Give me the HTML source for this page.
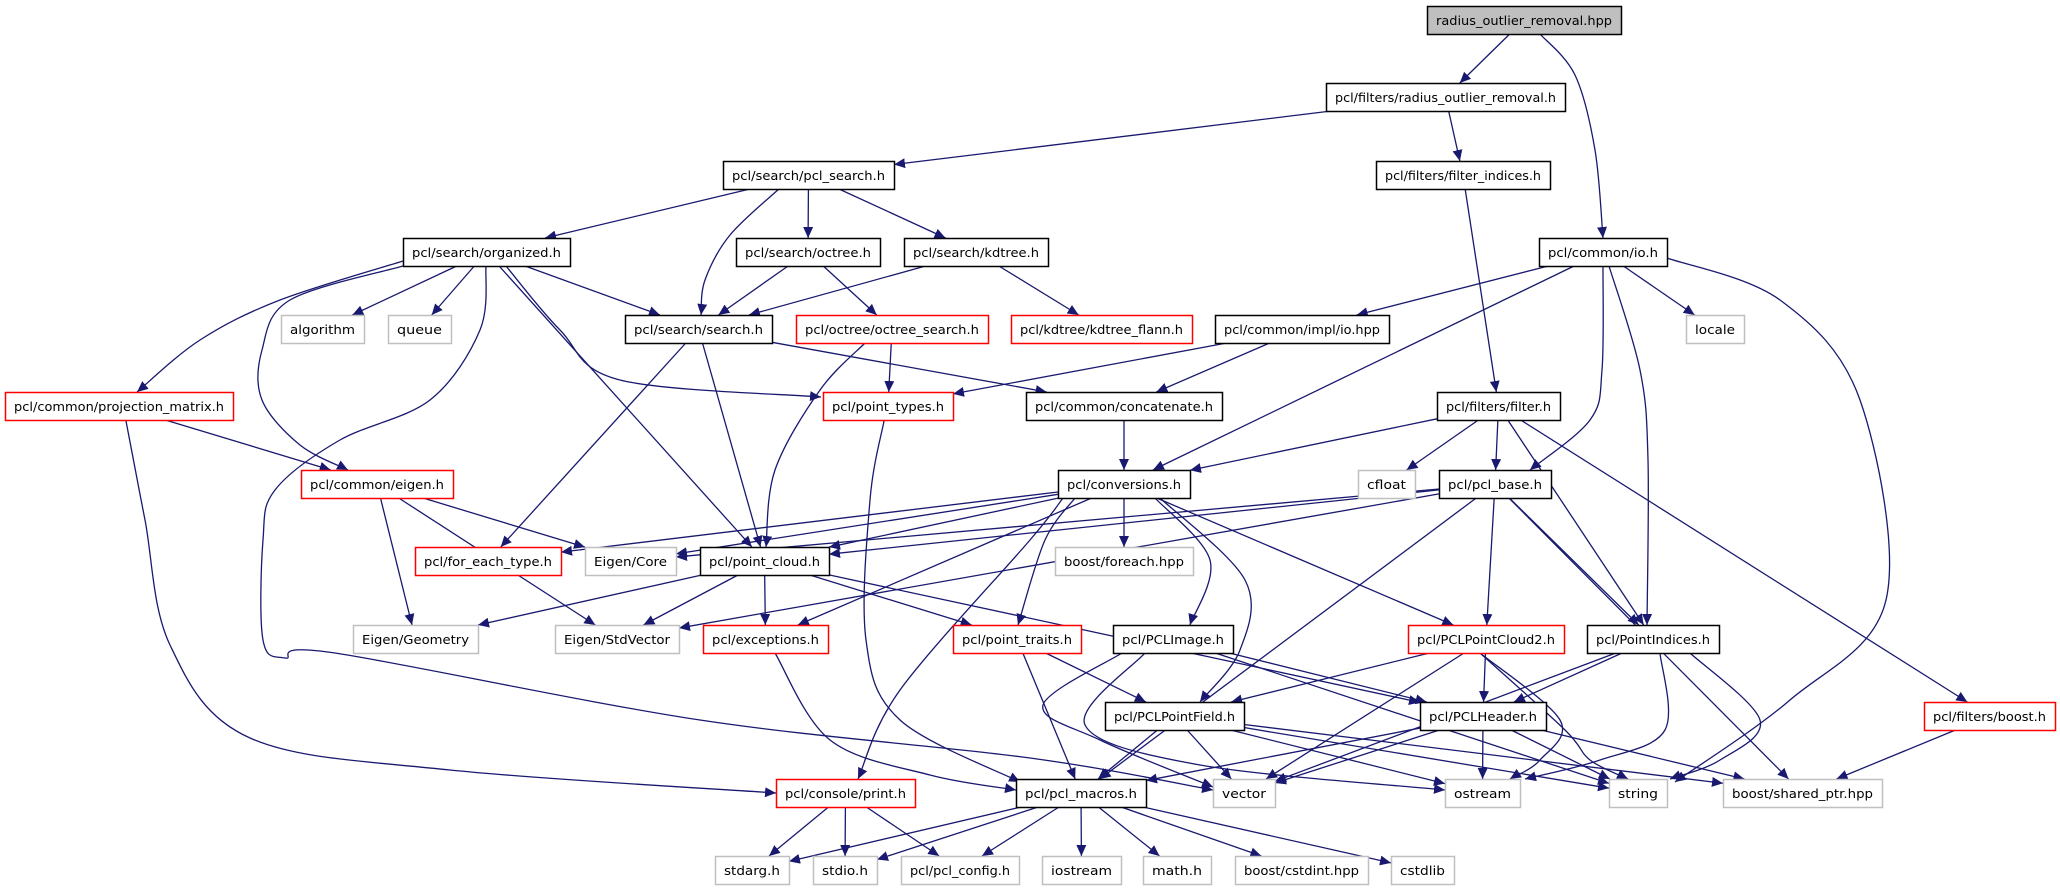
<!DOCTYPE html>
<html><head><meta charset="utf-8">
<style>
html,body{margin:0;padding:0;background:#fff;}
svg{display:block;}
text{font-family:"DejaVu Sans","Liberation Sans",sans-serif;font-size:12.5px;fill:#000;}
</style></head>
<body>
<svg id="g" width="2060" height="891" viewBox="0 0 2060 891" xmlns="http://www.w3.org/2000/svg">
<defs>
<marker id="a" markerUnits="userSpaceOnUse" markerWidth="12" markerHeight="10" refX="11" refY="5" orient="auto">
<path d="M0,0 L11,5 L0,10 z" fill="#191970"/>
</marker>
</defs>
<g id="edges" fill="none" stroke="#191970" stroke-width="1.3"></g>
<g id="nodes"></g>
</svg>
<script>
var N={
root:[1427,1621,6,"radius_outlier_removal.hpp","k",1],
radius:[1326,1565,83,"pcl/filters/radius_outlier_removal.h","b"],
pcl_search:[723,894,161,"pcl/search/pcl_search.h","b"],
filter_indices:[1376,1550,161,"pcl/filters/filter_indices.h","b"],
organized:[403,570,238,"pcl/search/organized.h","b"],
octree:[736,880,238,"pcl/search/octree.h","b"],
kdtree:[904,1048,238,"pcl/search/kdtree.h","b"],
io:[1539,1667,238,"pcl/common/io.h","b"],
algorithm:[281,364,315,"algorithm","g"],
queue:[388,451,315,"queue","g"],
search:[625,772,315,"pcl/search/search.h","b"],
octree_search:[796,988,315,"pcl/octree/octree_search.h","r"],
kdtree_flann:[1011,1192,315,"pcl/kdtree/kdtree_flann.h","r"],
impl_io:[1215,1389,315,"pcl/common/impl/io.hpp","b"],
locale:[1686,1744,315,"locale","g"],
proj:[5,233,392,"pcl/common/projection_matrix.h","r"],
point_types:[823,953,392,"pcl/point_types.h","r"],
concatenate:[1026,1222,392,"pcl/common/concatenate.h","b"],
filter:[1437,1560,392,"pcl/filters/filter.h","b"],
eigen:[301,453,470,"pcl/common/eigen.h","r"],
conversions:[1058,1190,470,"pcl/conversions.h","b"],
cfloat:[1358,1415,470,"cfloat","g"],
pcl_base:[1439,1551,470,"pcl/pcl_base.h","b"],
for_each:[415,561,547,"pcl/for_each_type.h","r"],
core:[585,676,547,"Eigen/Core","g"],
point_cloud:[700,829,547,"pcl/point_cloud.h","b"],
foreach:[1055,1193,547,"boost/foreach.hpp","g"],
geometry:[353,478,625,"Eigen/Geometry","g"],
stdvector:[555,679,625,"Eigen/StdVector","g"],
exceptions:[703,828,625,"pcl/exceptions.h","r"],
point_traits:[953,1081,625,"pcl/point_traits.h","r"],
pclimage:[1113,1233,625,"pcl/PCLImage.h","b"],
pc2:[1408,1564,625,"pcl/PCLPointCloud2.h","r"],
pointindices:[1587,1719,625,"pcl/PointIndices.h","b"],
pointfield:[1105,1244,702,"pcl/PCLPointField.h","b"],
header:[1420,1546,702,"pcl/PCLHeader.h","b"],
fboost:[1924,2055,702,"pcl/filters/boost.h","r"],
print:[776,915,779,"pcl/console/print.h","r"],
macros:[1016,1146,779,"pcl/pcl_macros.h","b"],
vector:[1213,1275,779,"vector","g"],
ostream:[1445,1520,779,"ostream","g"],
string:[1609,1667,779,"string","g"],
shared:[1723,1882,779,"boost/shared_ptr.hpp","g"],
stdarg:[715,789,856,"stdarg.h","g"],
stdio:[813,877,856,"stdio.h","g"],
config:[901,1019,856,"pcl/pcl_config.h","g"],
iostream:[1042,1121,856,"iostream","g"],
math:[1143,1211,856,"math.h","g"],
cstdint:[1235,1368,856,"boost/cstdint.hpp","g"],
cstdlib:[1391,1454,856,"cstdlib","g"]
};
var H=28;
var E=[
["root","radius"],["radius","pcl_search"],["radius","filter_indices"],["filter_indices","filter"],
["pcl_search","organized"],["pcl_search","octree"],["pcl_search","kdtree"],
["organized","algorithm"],["organized","queue"],["organized","search"],["organized","point_cloud"],
["octree","search"],["octree","octree_search"],["kdtree","search"],["kdtree","kdtree_flann"],
["search","for_each"],["search","point_cloud"],["search","concatenate"],
["octree_search","point_types"],
["impl_io","point_types"],["impl_io","concatenate"],
["io","impl_io"],["io","conversions"],["io","locale"],
["concatenate","conversions"],
["filter","conversions"],["filter","cfloat"],["filter","pcl_base"],["filter","pointindices"],["filter","fboost"],
["proj","eigen"],
["conversions","for_each"],["conversions","core"],["conversions","point_cloud"],["conversions","exceptions"],["conversions","foreach"],["conversions","pc2"],
["pcl_base","core"],["pcl_base","point_cloud"],["pcl_base","stdvector"],["pcl_base","macros"],["pcl_base","pc2"],["pcl_base","pointindices"],["pcl_base","shared"],
["eigen","core"],["eigen","geometry"],["eigen","stdvector"],
["point_cloud","geometry"],["point_cloud","stdvector"],["point_cloud","exceptions"],["point_cloud","point_traits"],["point_cloud","header"],
["point_traits","pointfield"],["point_traits","macros"],
["pclimage","header"],["pclimage","string"],
["pc2","pointfield"],["pc2","header"],["pc2","vector"],
["pointindices","header"],["pointindices","vector"],
["pointfield","macros"],["pointfield","vector"],["pointfield","ostream"],["pointfield","string"],["pointfield","shared"],
["header","macros"],["header","vector"],["header","ostream"],["header","string"],["header","shared"],
["fboost","shared"],
["print","stdarg"],["print","stdio"],["print","config"],
["macros","stdarg"],["macros","stdio"],["macros","config"],["macros","iostream"],["macros","math"],["macros","cstdint"],["macros","cstdlib"]
];
var C=[
[[1540,34],[1575,75],[1595,150],[1603,238]],
[[780,188],[730,235],[705,280],[701,315]],
[[403,261],[280,300],[200,340],[137,392]],
[[403,266],[290,300],[262,350],[262,400],[300,445],[348,470]],
[[486,266],[480,330],[430,400],[340,440],[275,490],[263,540],[263,640],[285,658],[335,653],[700,720],[1030,758],[1213,790]],
[[506,266],[560,330],[620,380],[821,397]],
[[126,421],[145,520],[170,645],[250,738],[450,770],[776,793]],
[[865,343],[820,390],[775,470],[766,547]],
[[884,421],[870,500],[866,640],[900,720],[1020,782]],
[[1667,258],[1780,300],[1860,400],[1886,600],[1790,700],[1675,782]],
[[1603,266],[1602,370],[1590,420],[1530,470]],
[[1609,266],[1640,370],[1648,460],[1647,625]],
[[1155,498],[1210,560],[1190,625]],
[[1160,498],[1245,580],[1240,650],[1200,702]],
[[1122,653],[1043,705],[1100,740],[1213,787]],
[[1145,653],[1085,725],[1200,765],[1445,790]],
[[775,653],[830,740],[930,775],[1016,790]],
[[1480,653],[1560,720],[1540,760],[1510,779]],
[[1660,653],[1665,730],[1600,760],[1525,779]],
[[1690,653],[1760,720],[1720,760],[1670,779]],
[[1480,653],[1565,730],[1590,760],[1628,779]],
[[1075,498],[1045,540],[1018,625]],
[[1063,498],[1030,540],[900,690],[858,779]]
];
var eg=document.getElementById('edges'),ng=document.getElementById('nodes'),S='http://www.w3.org/2000/svg';
function box(n){var b=N[n];return {x1:b[0],x2:b[1],y1:b[2],y2:b[2]+H,cx:(b[0]+b[1])/2,cy:b[2]+H/2};}
function clip(b,tx,ty){var dx=tx-b.cx,dy=ty-b.cy;var sx=dx?((b.x2-b.x1)/2)/Math.abs(dx):1e9,sy=dy?(H/2)/Math.abs(dy):1e9;var s=Math.min(sx,sy);return [b.cx+dx*s,b.cy+dy*s];}
function add(d){var p=document.createElementNS(S,'path');p.setAttribute('d',d);p.setAttribute('marker-end','url(#a)');eg.appendChild(p);}
E.forEach(function(e){var a=box(e[0]),b=box(e[1]);var p=clip(a,b.cx,b.cy),q=clip(b,a.cx,a.cy);add('M'+p[0]+','+p[1]+' L'+q[0]+','+q[1]);});
C.forEach(function(pts){var d='M'+pts[0][0]+','+pts[0][1];for(var i=0;i<pts.length-1;i++){var p0=pts[i-1]||pts[i],p1=pts[i],p2=pts[i+1],p3=pts[i+2]||p2;var c1=[p1[0]+(p2[0]-p0[0])/6,p1[1]+(p2[1]-p0[1])/6],c2=[p2[0]-(p3[0]-p1[0])/6,p2[1]-(p3[1]-p1[1])/6];d+=' C'+c1[0]+','+c1[1]+' '+c2[0]+','+c2[1]+' '+p2[0]+','+p2[1];}add(d);});
var col={b:'#000',r:'#ff0000',g:'#bfbfbf',k:'#000'};
for(var k in N){var b=N[k];var r=document.createElementNS(S,'rect');r.setAttribute('x',b[0]+0.5);r.setAttribute('y',b[2]+0.5);r.setAttribute('width',b[1]-b[0]);r.setAttribute('height',H);r.setAttribute('fill',b[4]=='k'?'#bfbfbf':'#fff');r.setAttribute('stroke',col[b[4]]);r.setAttribute('stroke-width',1.5);ng.appendChild(r);
var t=document.createElementNS(S,'text');t.setAttribute('x',(b[0]+b[1])/2);t.setAttribute('y',b[2]+19);t.setAttribute('text-anchor','middle');t.setAttribute('textLength',b[1]-b[0]-18);t.setAttribute('lengthAdjust','spacingAndGlyphs');t.textContent=b[3];ng.appendChild(t);}
</script>
</body></html>
